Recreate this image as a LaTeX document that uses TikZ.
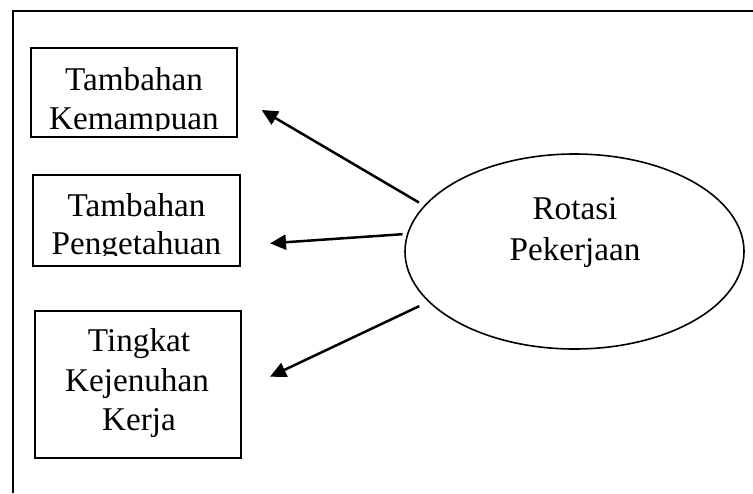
\documentclass[tikz,border=0pt]{standalone}
\usepackage{fontspec}
\setmainfont{Liberation Serif}
\usetikzlibrary{arrows.meta,shapes.geometric}
\begin{document}
\begin{tikzpicture}[x=0.5pt,y=-0.5pt,
  frameline/.style={line width=1pt},
  boxst/.style={draw,line width=1pt,inner sep=0pt},
  ellst/.style={draw,ellipse,line width=0.8pt,inner sep=0pt,minimum width=169.5pt,minimum height=97.5pt},
  txt/.style={inner sep=0pt,anchor=base,font=\fontsize{16.6}{19.8}\selectfont},
  arr/.style={line width=1.25pt,-{Triangle[length=8pt,width=7.5pt]}}]
\useasboundingbox (0,0) rectangle (753,493);
% outer frame (top and left only)
\coordinate (fbl) at (13,493);
\coordinate (ftl) at (13,11);
\coordinate (ftr) at (753,11);
\draw[frameline] (fbl) -- (ftl) -- (ftr);
% box 1
\node[boxst,minimum width=103pt,minimum height=44.5pt] (b1) at (134,92.5) {};
\node[txt] (b1a) at (134,90) {Tambahan};
\begin{scope}
  \clip (31,48) rectangle (237,130);
  \node[txt] (b1b) at (134,129) {Kemampuan};
\end{scope}
% box 2
\node[boxst,minimum width=103.5pt,minimum height=45.5pt] (b2) at (136.5,220.5) {};
\node[txt] (b2a) at (136.5,216) {Tambahan};
\begin{scope}
  \clip (33,175) rectangle (240,255);
  \node[txt] (b2b) at (136.5,254) {Pengetahuan};
\end{scope}
% box 3
\node[boxst,minimum width=103pt,minimum height=73.5pt] (b3) at (138,384.5) {};
\node[txt] (b3a) at (139,351) {Tingkat};
\node[txt] (b3b) at (137,391) {Kejenuhan};
\node[txt] (b3c) at (139,430) {Kerja};
% ellipse
\node[ellst] (rp) at (574.5,251.5) {};
\node[txt] (rpa) at (575,219) {Rotasi};
\node[txt] (rpb) at (575,260) {Pekerjaan};
% arrow end points
\coordinate (e1) at (261.7,110);
\coordinate (e2) at (270,243.3);
\coordinate (e3) at (270,376.7);
\draw[arr,shorten <=3pt] (rp.163.8) -- (e1);
\draw[arr,shorten <=2.2pt] (rp.174.6) -- (e2);
\draw[arr,shorten <=5pt] (rp.199.5) -- (e3);
\end{tikzpicture}
\end{document}
